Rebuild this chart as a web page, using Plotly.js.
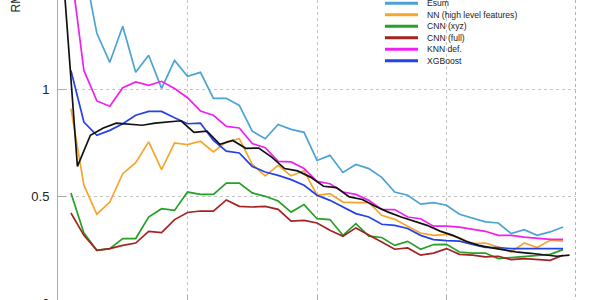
<!DOCTYPE html>
<html>
<head>
<meta charset="utf-8">
<script src="https://cdn.plot.ly/plotly-3.0.1.min.js"></script>
<style>
  html, body { margin: 0; padding: 0; width: 600px; height: 300px; overflow: hidden; background: #fff; }
  #chart { width: 600px; height: 340px; }
</style>
</head>
<body>
<div id="chart"></div>
<script>
// RMSE per bin for each reconstruction method (bins 1..39)
const esum    = [1.75, 1.58, 1.264, 1.128, 1.297, 1.081, 1.161, 1.006, 1.137, 1.062, 1.081, 0.959, 0.959, 0.926, 0.805, 0.77, 0.837, 0.814, 0.80, 0.668, 0.692, 0.612, 0.649, 0.63, 0.589, 0.52, 0.505, 0.463, 0.47, 0.458, 0.416, 0.398, 0.38, 0.375, 0.325, 0.344, 0.317, 0.333, 0.356];
const nnHigh  = [0.911, 0.552, 0.416, 0.473, 0.606, 0.658, 0.755, 0.625, 0.75, 0.742, 0.758, 0.708, 0.755, 0.77, 0.65, 0.596, 0.645, 0.596, 0.62, 0.505, 0.512, 0.473, 0.47, 0.47, 0.411, 0.392, 0.36, 0.328, 0.317, 0.322, 0.306, 0.278, 0.281, 0.262, 0.239, 0.281, 0.26, 0.294, 0.29];
const cnnXyz  = [0.516, 0.328, 0.247, 0.255, 0.302, 0.302, 0.403, 0.442, 0.434, 0.52, 0.509, 0.509, 0.562, 0.562, 0.516, 0.5, 0.478, 0.426, 0.461, 0.395, 0.391, 0.317, 0.372, 0.313, 0.307, 0.27, 0.289, 0.252, 0.274, 0.275, 0.239, 0.234, 0.234, 0.208, 0.213, 0.219, 0.224, 0.228, 0.25];
const cnnFull = [0.422, 0.317, 0.247, 0.255, 0.27, 0.281, 0.336, 0.33, 0.391, 0.424, 0.431, 0.431, 0.483, 0.453, 0.45, 0.453, 0.439, 0.384, 0.387, 0.375, 0.341, 0.313, 0.352, 0.317, 0.286, 0.252, 0.258, 0.224, 0.234, 0.255, 0.228, 0.224, 0.216, 0.219, 0.203, 0.208, 0.205, 0.2, 0.224];
const knnDef  = [1.565, 1.09, 0.947, 0.922, 1.009, 1.036, 1.02, 1.039, 1.005, 0.962, 0.9, 0.88, 0.828, 0.82, 0.747, 0.728, 0.664, 0.661, 0.63, 0.57, 0.559, 0.52, 0.509, 0.481, 0.439, 0.438, 0.403, 0.395, 0.36, 0.36, 0.356, 0.345, 0.336, 0.317, 0.317, 0.309, 0.302, 0.298, 0.298];
const xgboost = [1.09, 0.848, 0.786, 0.809, 0.84, 0.88, 0.898, 0.898, 0.868, 0.84, 0.843, 0.762, 0.712, 0.703, 0.64, 0.614, 0.598, 0.578, 0.552, 0.505, 0.481, 0.45, 0.419, 0.403, 0.369, 0.364, 0.349, 0.317, 0.297, 0.292, 0.29, 0.274, 0.26, 0.26, 0.255, 0.255, 0.255, 0.255, 0.255];
// reference curve sampled at bin centres (0.5 .. 39.5)
const reference = [1.46, 0.64, 0.786, 0.82, 0.843, 0.837, 0.833, 0.843, 0.848, 0.854, 0.8, 0.805, 0.744, 0.762, 0.725, 0.726, 0.684, 0.63, 0.619, 0.59, 0.547, 0.541, 0.497, 0.485, 0.453, 0.426, 0.403, 0.384, 0.364, 0.337, 0.317, 0.289, 0.27, 0.258, 0.247, 0.238, 0.233, 0.227, 0.219, 0.224];

const seriesNames  = ['Esum', 'NN (high level features)', 'CNN (xyz)', 'CNN (full)', 'KNN def.', 'XGBoost'];
const seriesValues = [esum, nnHigh, cnnXyz, cnnFull, knnDef, xgboost];
const seriesColors = ['#4ba3d3', '#f5a52c', '#26a026', '#a32222', '#f020f0', '#2442e6'];
const xTicks = [0, 10, 20, 30, 40];
const yTicks = [0, 0.5, 1];
const yTickText = ['0', '0.5', '1'];

const binX = esum.map((_, i) => i + 1);
const refX = reference.map((_, i) => i + 0.5);

const traces = seriesValues.map((vals, k) => ({
  type: 'scatter', mode: 'lines', name: seriesNames[k],
  x: binX, y: vals,
  line: { color: seriesColors[k], width: 1.7 },
  showlegend: false
}));
traces.push({
  type: 'scatter', mode: 'lines', name: 'reference',
  x: refX, y: reference,
  line: { color: '#111111', width: 1.7 },
  showlegend: false
});

// figure geometry (px)
const W = 600, H = 340, ML = 58, MR = 24, MT = 0, MB = 37;
const PW = W - ML - MR, PH = H - MT - MB;
const px = v => (v - ML) / PW;
const py = v => (PH + MT - v) / PH;

// compact legend drawn with shapes + annotations
const shapes = [{
  type: 'line', xref: 'x', yref: 'paper', x0: 40, x1: 40, y0: 0, y1: 1,
  line: { color: '#666', width: 1, dash: 'dot' }
}];
const annotations = [{
  text: 'RMSE', xref: 'paper', yref: 'paper', x: px(15), y: py(15),
  xanchor: 'center', yanchor: 'bottom', textangle: -90, showarrow: false,
  font: { family: 'Liberation Sans, Arial, sans-serif', size: 12, color: '#222' }
}];
seriesNames.forEach((name, k) => {
  const rowY = 3.3 + k * 11.5;
  shapes.push({
    type: 'line', xref: 'paper', yref: 'paper',
    x0: px(385), x1: px(418), y0: py(rowY), y1: py(rowY),
    line: { color: seriesColors[k], width: 3 }
  });
  annotations.push({
    text: name, xref: 'paper', yref: 'paper', x: px(425), y: py(rowY),
    xanchor: 'left', yanchor: 'middle', showarrow: false,
    font: { family: 'Liberation Sans, Arial, sans-serif', size: 8.6, color: '#222' }
  });
});

const layout = {
  width: W, height: H,
  margin: { l: ML, r: MR, t: MT, b: MB },
  paper_bgcolor: '#fff', plot_bgcolor: '#fff',
  font: { family: 'Liberation Sans, Arial, sans-serif', size: 13, color: '#222' },
  showlegend: false,
  xaxis: {
    range: [0, 40], tickvals: xTicks, showticklabels: false,
    ticks: 'inside', ticklen: 8, tickcolor: '#aaa',
    showgrid: true, gridcolor: '#c4c4c4', griddash: 'dot', gridwidth: 1,
    showline: false, zeroline: false
  },
  yaxis: {
    range: [0, 1.42], tickvals: yTicks, ticktext: yTickText,
    ticks: 'inside', ticklen: 8, tickcolor: '#aaa', ticklabelstandoff: 5,
    showgrid: true, gridcolor: '#c4c4c4', griddash: 'dot', gridwidth: 1,
    showline: true, linecolor: '#aaa', linewidth: 1, zeroline: false
  },
  shapes: shapes,
  annotations: annotations
};

Plotly.newPlot('chart', traces, layout, { staticPlot: true, displayModeBar: false });
</script>
</body>
</html>
